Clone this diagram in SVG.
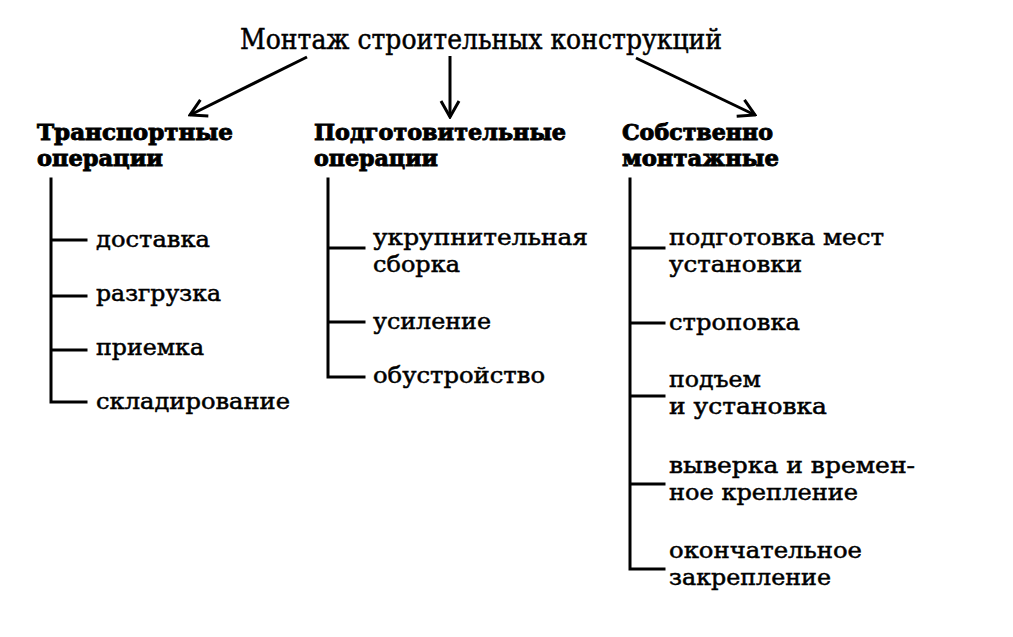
<svg xmlns="http://www.w3.org/2000/svg" width="1013" height="637" viewBox="0 0 1013 637">
<style>
text{font-family:"DejaVu Serif","Liberation Serif",serif;fill:#000;stroke:#000}
.title{font-size:27px;stroke-width:0.5}
.head{font-size:22px;font-weight:bold;stroke-width:0.9}
.item{font-size:22px;stroke-width:0.5}
.ln{stroke:#000;stroke-width:3;fill:none;stroke-linecap:square}
.arr{stroke:#000;stroke-width:3;fill:none}
</style>
<defs>
<marker id="ah" markerUnits="userSpaceOnUse" viewBox="0 0 22 22" refX="20" refY="11" markerWidth="22" markerHeight="22" orient="auto">
<path d="M4,2 L20,11 L4,20" fill="none" stroke="#000" stroke-width="3" stroke-linejoin="miter"/>
</marker>
</defs>
<rect width="1013" height="637" fill="#fff"/>
<g id="root">
<text class="title" x="240" y="49" textLength="482" lengthAdjust="spacingAndGlyphs">Монтаж строительных конструкций</text>
</g>
<g id="connectors">
<line class="arr" x1="307" y1="57" x2="190" y2="115" marker-end="url(#ah)"/>
<line class="arr" x1="450" y1="56" x2="450" y2="117" marker-end="url(#ah)"/>
<line class="arr" x1="636" y1="58" x2="755" y2="115" marker-end="url(#ah)"/>
<path class="ln" d="M51,179 V402 H86 M51,240 H86 M51,296 H86 M51,350 H86"/>
<path class="ln" d="M328,179 V377 H364 M328,248 H364 M328,322 H364"/>
<path class="ln" d="M630,179 V569 H664 M630,248 H664 M630,323 H664 M630,396 H664 M630,484 H664"/>
</g>
<g id="transport">
<text class="head" x="37" y="140" textLength="196" lengthAdjust="spacingAndGlyphs">Транспортные</text>
<text class="head" x="37" y="166" textLength="126" lengthAdjust="spacingAndGlyphs">операции</text>
</g>
<g id="t1"><text class="item" x="96" y="247" textLength="114" lengthAdjust="spacingAndGlyphs">доставка</text></g>
<g id="t2"><text class="item" x="96" y="301" textLength="125" lengthAdjust="spacingAndGlyphs">разгрузка</text></g>
<g id="t3"><text class="item" x="96" y="355" textLength="108" lengthAdjust="spacingAndGlyphs">приемка</text></g>
<g id="t4"><text class="item" x="96" y="409" textLength="194" lengthAdjust="spacingAndGlyphs">складирование</text></g>
<g id="prep">
<text class="head" x="314" y="140" textLength="252" lengthAdjust="spacingAndGlyphs">Подготовительные</text>
<text class="head" x="314" y="166" textLength="124" lengthAdjust="spacingAndGlyphs">операции</text>
</g>
<g id="p1">
<text class="item" x="373" y="245" textLength="215" lengthAdjust="spacingAndGlyphs">укрупнительная</text>
<text class="item" x="373" y="272" textLength="87" lengthAdjust="spacingAndGlyphs">сборка</text>
</g>
<g id="p2"><text class="item" x="373" y="329" textLength="118" lengthAdjust="spacingAndGlyphs">усиление</text></g>
<g id="p3"><text class="item" x="373" y="383" textLength="172" lengthAdjust="spacingAndGlyphs">обустройство</text></g>
<g id="mont">
<text class="head" x="622" y="140" textLength="151" lengthAdjust="spacingAndGlyphs">Собственно</text>
<text class="head" x="622" y="166" textLength="157" lengthAdjust="spacingAndGlyphs">монтажные</text>
</g>
<g id="m1">
<text class="item" x="669" y="245" textLength="215" lengthAdjust="spacingAndGlyphs">подготовка мест</text>
<text class="item" x="669" y="272" textLength="133" lengthAdjust="spacingAndGlyphs">установки</text>
</g>
<g id="m2"><text class="item" x="669" y="330" textLength="131" lengthAdjust="spacingAndGlyphs">строповка</text></g>
<g id="m3">
<text class="item" x="669" y="387" textLength="92" lengthAdjust="spacingAndGlyphs">подъем</text>
<text class="item" x="669" y="414" textLength="158" lengthAdjust="spacingAndGlyphs">и установка</text>
</g>
<g id="m4">
<text class="item" x="669" y="473" textLength="246" lengthAdjust="spacingAndGlyphs">выверка и времен-</text>
<text class="item" x="669" y="500" textLength="189" lengthAdjust="spacingAndGlyphs">ное крепление</text>
</g>
<g id="m5">
<text class="item" x="669" y="558" textLength="193" lengthAdjust="spacingAndGlyphs">окончательное</text>
<text class="item" x="669" y="585" textLength="162" lengthAdjust="spacingAndGlyphs">закрепление</text>
</g>
</svg>
